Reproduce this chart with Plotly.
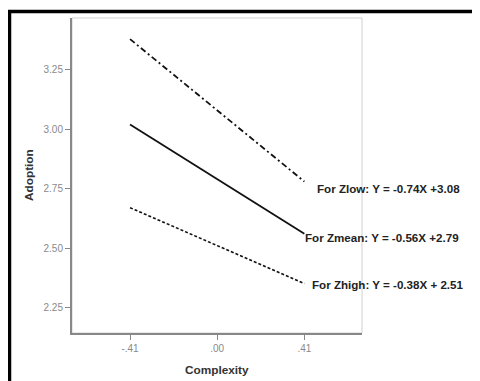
import plotly.graph_objects as go

# Data
complexity = [-0.41, 0.41]
x_tick_vals = [-0.41, 0.0, 0.41]
x_tick_text = ["-.41", ".00", ".41"]
y_tick_vals = [2.25, 2.50, 2.75, 3.00, 3.25]
y_tick_text = ["2.25", "2.50", "2.75", "3.00", "3.25"]

zlow = [3.38, 2.78]
zmean = [3.02, 2.56]
zhigh = [2.67, 2.35]

labels = [
    "For Zlow: Y = -0.74X +3.08",
    "For Zmean: Y = -0.56X +2.79",
    "For Zhigh: Y = -0.38X + 2.51",
]

# page body has an 8px default margin; lay out in window pixels
OFF = 8
W, H = 480 - OFF, 381 - OFF
L, R, T, B = 72 - OFF, 118, 18 - OFF, 48
pw, ph = W - L - R, H - T - B

def px(x):
    return (x - OFF - L) / pw

def py(y):
    return (H + OFF - B - y) / ph

FONT = "Liberation Sans, Arial"

fig = go.Figure()
fig.add_trace(go.Scatter(x=complexity, y=zlow, mode="lines",
                         line=dict(color="#111", width=1.8, dash="6px,3px,2px,3px"), showlegend=False))
fig.add_trace(go.Scatter(x=complexity, y=zmean, mode="lines",
                         line=dict(color="#111", width=1.8), showlegend=False))
fig.add_trace(go.Scatter(x=complexity, y=zhigh, mode="lines",
                         line=dict(color="#111", width=1.6, dash="3px,2px"), showlegend=False))

ends = [zlow[1], zmean[1], zhigh[1]]
xs = [13, 1, 8]
ys = [-6.5, -3.5, -0.5]
for lab, yv, xsft, ysft in zip(labels, ends, xs, ys):
    fig.add_annotation(x=complexity[1], y=yv, text="<b>" + lab + "</b>", showarrow=False,
                       xanchor="left", yanchor="middle", xshift=xsft - 2, yshift=ysft,
                       font=dict(family=FONT, size=11.6, color="#222"))

fig.add_annotation(x=0.0, y=py(370), xref="x", yref="paper", text="<b>Complexity</b>", showarrow=False,
                   xanchor="center", yanchor="middle",
                   font=dict(family=FONT, size=11.8, color="#333"))
fig.add_annotation(x=px(29), y=py(175), xref="paper", yref="paper", text="<b>Adoption</b>", showarrow=False,
                   textangle=-90, xanchor="center", yanchor="middle",
                   font=dict(family=FONT, size=11.8, color="#333"))

# light plot frame (top/right)
fig.add_shape(type="rect", xref="paper", yref="paper", x0=0, x1=1, y0=0, y1=1,
              line=dict(color="#d0d0d0", width=1), layer="below")
# outer heavy frame
fig.add_shape(type="rect", xref="paper", yref="paper", x0=px(9.5), x1=px(500), y0=py(400), y1=py(11.5),
              line=dict(color="black", width=3.5))

axis_common = dict(showgrid=False, zeroline=False, showline=True, linecolor="#888", linewidth=2,
                   ticks="outside", ticklen=5, tickcolor="#888", tickwidth=1,
                   tickfont=dict(family=FONT, size=10, color="#8a8a8a"))
fig.update_xaxes(range=[-0.683, 0.681], tickvals=x_tick_vals, ticktext=x_tick_text, **axis_common)
fig.update_yaxes(range=[2.142, 3.469], tickvals=y_tick_vals, ticktext=y_tick_text, **axis_common)

fig.update_layout(width=W, height=H, margin=dict(l=L, r=R, t=T, b=B),
                  paper_bgcolor="white", plot_bgcolor="white")

fig.write_html("out.html")
